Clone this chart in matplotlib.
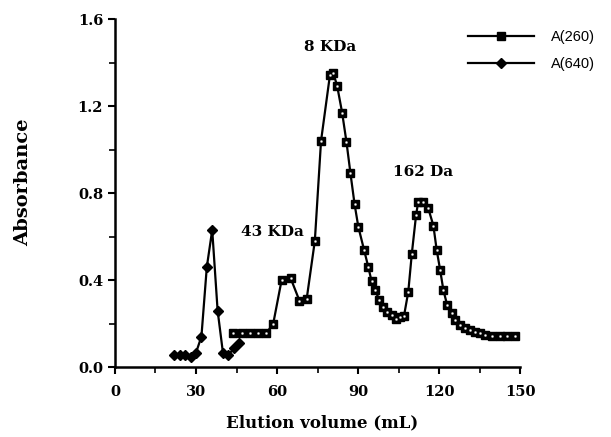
import matplotlib
matplotlib.use("Agg")
import matplotlib.pyplot as plt
from matplotlib.ticker import MultipleLocator

# A(640) series (diamonds)
vol_640 = [22, 24, 26, 28, 30, 32, 34, 36, 38, 40, 42, 44, 46]
abs_640 = [0.055, 0.055, 0.055, 0.047, 0.066, 0.14, 0.46, 0.63, 0.26, 0.063, 0.055, 0.086, 0.11]

# A(260) series (squares)
vol_260 = [43.8, 47, 50, 53, 56, 58.6, 61.7, 65.0, 68.3, 71.0, 74.0, 76.3, 79.6, 80.9,
           82.3, 84.1, 85.7, 87.2, 88.7, 90.1, 92.2, 93.8, 95.0, 96.3, 97.9, 99.4,
           100.9, 102.5, 103.9, 105.6, 107.0, 108.6, 109.9, 111.5, 112.3, 114.2,
           116.0, 117.9, 119.1, 120.4, 121.6, 123.0, 124.7, 126.0, 127.8, 129.6,
           131.5, 133.3, 135.2, 137.0, 139.5, 142.6, 145.3, 148.1]
abs_260 = [0.155, 0.155, 0.155, 0.155, 0.155, 0.20, 0.40, 0.41, 0.305, 0.315, 0.58, 1.04,
           1.343, 1.35, 1.29, 1.17, 1.036, 0.89, 0.75, 0.645, 0.54, 0.46, 0.395, 0.354,
           0.308, 0.277, 0.254, 0.239, 0.219, 0.23, 0.234, 0.346, 0.52, 0.70, 0.76,
           0.76, 0.73, 0.65, 0.54, 0.446, 0.354, 0.285, 0.247, 0.216, 0.193, 0.178,
           0.170, 0.162, 0.155, 0.147, 0.143, 0.143, 0.143, 0.143]

annotations = [("8 KDa", 79.6, 1.47), ("43 KDa", 58.2, 0.62), ("162 Da", 114.0, 0.897)]
x_ticks = [0, 30, 60, 90, 120, 150]
y_ticks = [0.0, 0.4, 0.8, 1.2, 1.6]

plt.rcParams['font.family'] = ['DejaVu Serif']

fig = plt.figure(figsize=(6.11, 4.37), dpi=100)
ax = fig.add_axes([0.1882, 0.160, 0.663, 0.7965])

l260, = ax.plot(vol_260, abs_260, color='black', lw=1.6, marker='s', ms=6,
                mfc='black', mec='black', zorder=3)
ax.plot(vol_260, abs_260, ls='none', marker='s', ms=1.0, mfc='white', mec='white',
        mew=0.5, zorder=4)
l640, = ax.plot(vol_640, abs_640, color='black', lw=1.6, marker='D', ms=5,
                mfc='black', mec='black', zorder=3)

ax.set_xlim(0, 150)
ax.set_ylim(0, 1.6)
ax.set_xticks(x_ticks)
ax.set_yticks(y_ticks)
ax.set_yticklabels([f"{v:.1f}" for v in y_ticks])
ax.xaxis.set_minor_locator(MultipleLocator(15))
ax.yaxis.set_minor_locator(MultipleLocator(0.2))
ax.tick_params(which='major', direction='out', length=5, width=1.5, labelsize=10.5)
ax.tick_params(which='minor', direction='out', length=4, width=1.2)
for lab in ax.get_xticklabels() + ax.get_yticklabels():
    lab.set_fontweight('bold')
ax.tick_params(axis='x', pad=8)

for s in ['top', 'right']:
    ax.spines[s].set_visible(False)
for s in ['left', 'bottom']:
    ax.spines[s].set_linewidth(1.8)

ax.set_xlabel("Elution volume (mL)", fontsize=12, fontweight='bold')
ax.set_ylabel("Absorbance", fontsize=14, fontweight='bold')
ax.xaxis.set_label_coords(0.511, -0.135)
ax.yaxis.set_label_coords(-0.205, 0.53)

for txt, x, y in annotations:
    ax.text(x, y, txt, ha='center', va='center', fontsize=11, fontweight='bold')

leg = fig.legend([l260, l640], ["A(260)", "A(640)"], loc='upper left',
                 bbox_to_anchor=(0.745, 0.962), frameon=False, handlelength=4.5,
                 prop={'family': 'Liberation Sans', 'size': 10.5},
                 labelspacing=0.9, handletextpad=1.2)

fig.savefig("out.png", dpi=100)
